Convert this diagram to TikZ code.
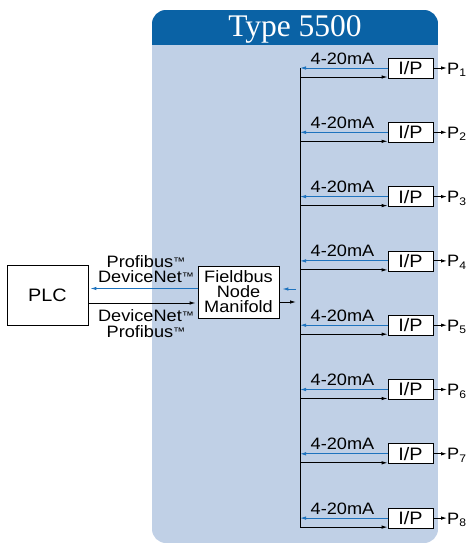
\documentclass[tikz,border=0pt]{standalone}
\usepackage{fontspec}
\setmainfont{Liberation Sans}[FakeStretch=1.1]
\newfontfamily\titlefont{Liberation Serif}
\usetikzlibrary{arrows.meta}
\definecolor{hdrblue}{RGB}{10,98,165}
\definecolor{panelblue}{RGB}{192,208,230}
\definecolor{sigblue}{RGB}{30,115,190}
\newcommand\tmark{\raisebox{2pt}{\fontsize{11}{11}\selectfont ™}}
\begin{document}
\begin{tikzpicture}[x=1pt,y=-1pt,font=\fontsize{16.5}{15}\selectfont,
  box/.style={draw=black,line width=0.8pt,fill=white,inner sep=0pt,align=center},
  bl/.style={draw=sigblue,line width=0.9pt,-{Latex[length=6pt,width=3.5pt]}},
  bk/.style={draw=black,line width=0.9pt,-{Latex[length=6pt,width=3.5pt]}},
  lbl/.style={inner sep=0pt,anchor=base}]
\useasboundingbox (0,0) rectangle (466,544);
% panel
\begin{scope}
\clip[rounded corners=14pt] (152,10) rectangle (438,543);
\fill[panelblue] (152,10) rectangle (438,543);
\fill[hdrblue] (152,10) rectangle (438,45);
\end{scope}
\node[font=\titlefont\fontsize{31.5}{32}\selectfont,text=white,anchor=base,inner sep=0pt] (title) at (295,36) {Type 5500};
% I/P branches
\foreach \k in {1,...,8}{
  \pgfmathsetmacro\yy{68+64.3*(\k-1)}
  \node[box,minimum width=45pt,minimum height=20pt,font=\fontsize{18}{18}\selectfont] (ip\k) at (410.5,\yy) {I/P};
  \coordinate (bb\k) at (300,\yy);
  \coordinate (kb\k) at (300,\yy+9);
  \draw[bl] (ip\k.west) -- (bb\k);
  \draw[bk] (kb\k) -- (kb\k -| ip\k.west);
  \node[lbl] (ma\k) at (342.5,\yy-4) {4-20mA};
  \node[inner sep=0pt,anchor=base west] (p\k) at (447,\yy+6) {P\raisebox{-2.5pt}{\fontsize{11}{11}\selectfont\k}};
  \draw[bk] (ip\k.east) -- (ip\k.east -| p\k.west);
}
\draw[line width=0.9pt] (bb1) -- (kb8);
% PLC and manifold
\node[box,minimum width=81pt,minimum height=60pt,font=\fontsize{18}{18}\selectfont] (plc) at (47.5,295) {PLC};
\node[box,minimum width=81pt,minimum height=52pt] (fb) at (238.5,292) {Fieldbus\\Node\\Manifold};
\draw[bl,shorten >=2pt] ([yshift=3.5pt]fb.west) -- ([yshift=3.5pt]fb.west -| plc.east);
\draw[bk,shorten >=2pt] ([yshift=-11pt]fb.west -| plc.east) -- ([yshift=-11pt]fb.west);
\coordinate (bin) at (300,289);
\coordinate (bout) at (300,302);
\draw[bl,shorten <=4pt,shorten >=3pt] (bin) -- (bin -| fb.east);
\draw[bk,shorten >=4pt] (bout -| fb.east) -- (bout);
% protocol labels
\node[lbl] (l1) at (146,267) {Profibus\tmark};
\node[lbl] (l2) at (146,282) {DeviceNet\tmark};
\node[lbl] (l3) at (146,321) {DeviceNet\tmark};
\node[lbl] (l4) at (146,337) {Profibus\tmark};
\end{tikzpicture}
\end{document}
